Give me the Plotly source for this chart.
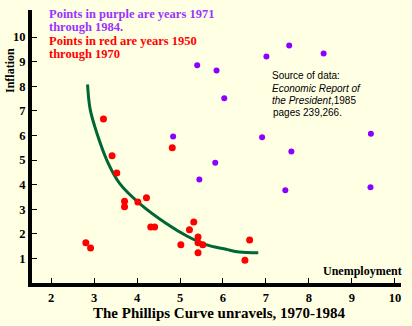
import plotly.graph_objects as go

# Red points: years 1950-1970 (unemployment, inflation)
red_unemp = [2.81, 2.92, 3.53, 3.71, 3.71, 4.02, 4.22, 4.32, 4.41, 5.02, 5.22,
             5.32, 5.42, 5.42, 5.42, 5.53, 3.22, 3.42, 4.82, 6.62, 6.51]
red_infl = [1.64, 1.42, 4.47, 3.32, 3.10, 3.29, 3.47, 2.28, 2.28, 1.56, 2.17,
            2.48, 1.87, 1.64, 1.23, 1.56, 6.67, 5.17, 5.50, 1.75, 0.93]

# Purple points: years 1971-1984
purple_unemp = [5.40, 4.84, 5.45, 7.54, 7.01, 8.34, 5.85, 6.03, 6.91, 9.44,
                7.59, 5.82, 7.45, 9.43]
purple_infl = [8.85, 5.96, 4.21, 9.66, 9.21, 9.33, 8.64, 7.51, 5.93, 6.07,
               5.35, 4.89, 3.77, 3.89]

# Phillips curve (as drawn)
curve_unemp = [2.85, 2.91, 3.06, 3.31, 3.60, 4.07, 4.69, 5.16, 5.60, 6.07, 6.38, 6.82]
curve_infl = [8.07, 7.07, 6.13, 4.95, 4.04, 3.22, 2.41, 1.91, 1.56, 1.37, 1.26, 1.23]

x_ticks = [2, 3, 4, 5, 6, 7, 8, 9, 10]
y_ticks = [1, 2, 3, 4, 5, 6, 7, 8, 9, 10]

BG = "#FFFFE4"
SERIF = "Liberation Serif"
PURPLE = "#8B00FF"
PURPLE_TXT = "#9A33FF"
RED = "#FF0000"
GREEN = "#006633"

fig = go.Figure()
fig.add_trace(go.Scatter(x=curve_unemp, y=curve_infl, mode="lines",
                         line=dict(color=GREEN, width=3, shape="spline"),
                         hoverinfo="skip"))
fig.add_trace(go.Scatter(x=red_unemp, y=red_infl, mode="markers",
                         marker=dict(color=RED, size=7, line=dict(width=0))))
fig.add_trace(go.Scatter(x=purple_unemp, y=purple_infl, mode="markers",
                         marker=dict(color=PURPLE, size=6, line=dict(width=0))))

L, R, T, B = 32, 11, 10, 43
W, H = 412, 326
pw, ph = W - L - R, H - T - B

def px(x):
    return (x - L) / pw

def py(y):
    return (H - B - y) / ph

ann = []
def add(text, x, y, xa="left", ya="middle", size=13, color="black", family=SERIF, bold=True, angle=0):
    t = f"<b>{text}</b>" if bold else text
    ann.append(dict(text=t, x=px(x), y=py(y), xref="paper", yref="paper",
                    xanchor=xa, yanchor=ya, showarrow=False, textangle=angle,
                    font=dict(family=family, size=size, color=color)))

add("Points in purple are years 1971", 47, 14, size=12.5, color=PURPLE_TXT)
add("through 1984.", 47, 27, size=12.5, color=PURPLE_TXT)
add("Points in red are years 1950", 47, 41, size=12.5, color=RED)
add("through 1970", 47, 54, size=12.5, color=RED)

SANS = "Liberation Sans"
add("Source of data:", 270, 75, size=10, family=SANS, bold=False)
add("<i>Economic Report of</i>", 270, 88, size=10, family=SANS, bold=False)
add("<i>the President</i>,1985", 270, 100, size=10, family=SANS, bold=False)
add("pages 239,266.", 271, 112, size=10, family=SANS, bold=False)

add("Unemployment", 404, 271, xa="right", size=12)
add("Inflation", 10, 71, xa="center", size=12, angle=-90)
add("The Phillips Curve unravels, 1970-1984", 219, 313, xa="center", size=15)

fig.update_layout(
    width=W, height=H,
    margin=dict(l=L, r=R, t=T, b=B, pad=0),
    paper_bgcolor=BG, plot_bgcolor=BG,
    showlegend=False,
    annotations=ann,
    xaxis=dict(range=[1.558, 10.14], tickvals=x_ticks, ticktext=[f"<b>{v}</b>" for v in x_ticks],
               showgrid=False, zeroline=False, showline=True, linecolor="black",
               linewidth=4, ticks="inside", ticklen=5, tickwidth=1, tickcolor="black",
               tickfont=dict(family=SERIF, size=12.5, color="black")),
    yaxis=dict(range=[0, 11.1], tickvals=y_ticks, ticktext=[f"<b>{v}</b>" for v in y_ticks],
               showgrid=False, zeroline=False, showline=True, linecolor="black",
               linewidth=4, ticks="inside", ticklen=5, tickwidth=1, tickcolor="black",
               tickfont=dict(family=SERIF, size=12.5, color="black")),
)

fig.write_html("out.html")
